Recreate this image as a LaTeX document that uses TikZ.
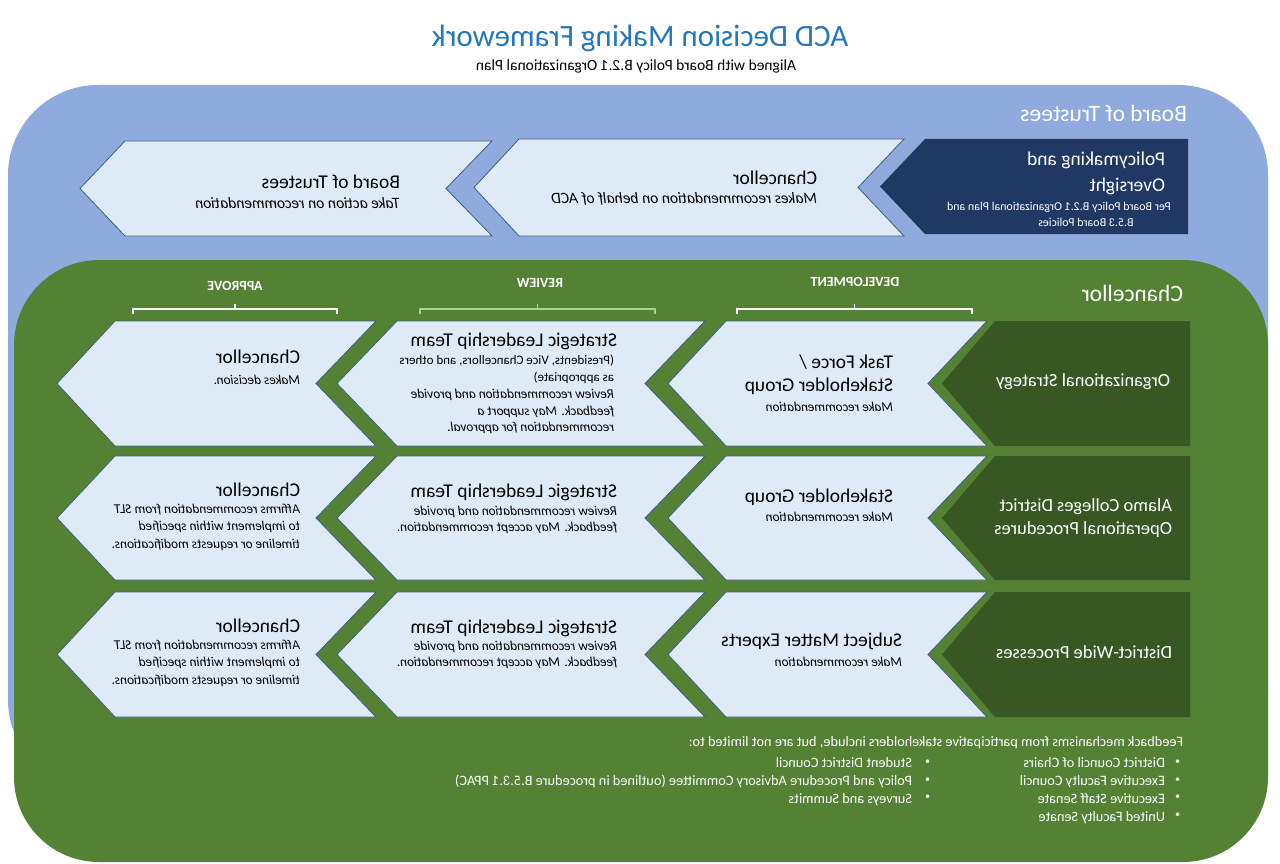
\documentclass[tikz,border=0pt]{standalone}
\usepackage{fontspec}
\setmainfont{Carlito}
\definecolor{bgblue}{HTML}{8FAADC}
\definecolor{bggreen}{HTML}{548235}
\definecolor{dkgreen}{HTML}{385723}
\definecolor{navy}{HTML}{203864}
\definecolor{lightfill}{HTML}{DEEBF7}
\definecolor{chevborder}{HTML}{3A5F80}
\definecolor{titleblue}{HTML}{2577BD}
\definecolor{revline}{HTML}{A9D18E}
% chevron with notch: point, top-left, notch, right, top, bottom, style
\newcommand{\chev}[7]{\draw[#7] (#2,#5) -- (#4,#5) -- (#3,{(#5+#6)/2}) -- (#4,#6) -- (#2,#6) -- (#1,{(#5+#6)/2}) -- cycle;}
% pentagon pointing left: point, top-left, right, top, bottom, style
\newcommand{\pent}[6]{\fill[#6] (#2,#4) -- (#3,#4) -- (#3,#5) -- (#2,#5) -- (#1,{(#4+#5)/2}) -- cycle;}
% bracket: left, right, colour
\newcommand{\colbracket}[3]{\draw[#3, line width=1.2pt] (#1,314) -- (#1,309) -- (#2,309) -- (#2,314); \draw[#3, line width=1.2pt] ({(#1+#2)/2},309) -- ({(#1+#2)/2},304);}
\begin{document}
\begin{tikzpicture}[x=1pt,y=-1pt,
  every node/.style={xscale=-1, inner sep=0pt, outer sep=0pt},
  chevst/.style={fill=lightfill, draw=chevborder, line width=0.8pt},
  boxttl/.style={anchor=base west, font=\fontsize{19.5}{23}\selectfont},
  boxsub/.style={anchor=base west, font=\fontsize{13.5}{17}\selectfont\itshape},
  boxbody/.style={anchor=north west, align=left, font=\fontsize{13.5}{#1}\selectfont\itshape},
  lab/.style={anchor=base west, text=white, font=\fontsize{18.5}{23}\selectfont},
  hdr/.style={anchor=base west, text=white, font=\fontsize{23.5}{28}\selectfont},
  colhdr/.style={anchor=base, text=white, font=\fontsize{14}{15}\selectfont\bfseries},
  fb/.style={anchor=north west, align=left, text=white, font=\fontsize{14.3}{17.7}\selectfont},
  fbdot/.style={anchor=north west, align=left, text=white, font=\fontsize{10}{17.7}\selectfont}]
\useasboundingbox (0,0) rectangle (1280,864);
\fill[white] (0,0) rectangle (1280,864);
% backgrounds
\fill[bgblue, rounded corners=90pt] (8,85) rectangle (1268,790);
\fill[bggreen, rounded corners=85pt] (14,260) rectangle (1268,862);
% title
\node[anchor=base, text=titleblue, font=\fontsize{31}{36}\selectfont] (title) at (640,47) {ACD Decision Making Framework};
\node[anchor=base, font=\fontsize{15.5}{17}\selectfont] (subtitle) at (636,71) {Aligned with Board Policy B.2.1 Organizational Plan};
% board row
\node[hdr] (bothdr) at (1187,122) {Board of Trustees};
\pent{880}{925}{1188}{139}{234}{navy}
\chev{474}{519}{858}{904}{139}{236}{chevst}
\chev{80}{125}{446}{492}{141}{236}{chevst}
\node[boxttl, text=white] (pol1) at (1165,165) {Policymaking and};
\node[boxttl, text=white] (pol2) at (1165,191) {Oversight};
\node[anchor=base, text=white, font=\fontsize{12}{13}\selectfont] (pol3) at (1059,211) {Per Board Policy B.2.1 Organizational Plan and};
\node[anchor=base, text=white, font=\fontsize{12}{13}\selectfont] (pol4) at (1086,226) {B.5.3 Board Policies};
\node[boxttl] (chb1) at (817,184) {Chancellor};
\node[boxsub, font=\fontsize{15.8}{17}\selectfont\itshape] (chb2) at (817,204) {Makes recommendation on behalf of ACD};
\node[boxttl] (btb1) at (400,188) {Board of Trustees};
\node[boxsub, font=\fontsize{15.8}{17}\selectfont\itshape] (btb2) at (400,208) {Take action on recommendation};
% chancellor region
\node[hdr] (chhdr) at (1183,301) {Chancellor};
\node[colhdr] (apphdr) at (235,290) {APPROVE};
\node[colhdr] (revhdr) at (540,287) {REVIEW};
\node[colhdr] (devhdr) at (855,286) {DEVELOPMENT};
\colbracket{133}{337}{white}
\colbracket{420}{655}{revline}
\colbracket{737}{972}{white}
% rows of shapes
\foreach \t/\b in {321/446, 456/580, 592/717}{
  \pent{942}{995}{1190}{\t}{\b}{dkgreen}
  \chev{668}{726}{928}{987}{\t}{\b}{chevst}
  \chev{337}{397}{645}{705}{\t}{\b}{chevst}
  \chev{57}{115}{316}{376}{\t}{\b}{chevst}
}
% row 1
\node[lab] (r1lab) at (1170,386) {Organizational Strategy};
\node[boxttl] (r1d1) at (893,368) {Task Force /};
\node[boxttl] (r1d2) at (893,391) {Stakeholder Group};
\node[boxsub] (r1d3) at (893,411) {Make recommendation};
\node[boxttl] (r1r1) at (617,346) {Strategic Leadership Team};
\node[anchor=north west, align=left, font=\fontsize{13}{16.7}\selectfont] (r1r2) at (614,355) {(Presidents, Vice Chancellors, and others\\as appropriate)};
\node[boxbody=16.7] (r1r3) at (614,389) {Review recommendation and provide\\feedback. May support a\\recommendation for approval.};
\node[boxttl] (r1a1) at (300,363) {Chancellor};
\node[boxsub] (r1a2) at (300,384) {Makes decision.};
% row 2
\node[lab, anchor=north west, align=left] (r2lab) at (1172,499) {Alamo Colleges District\\Operational Procedures};
\node[boxttl] (r2d1) at (893,502) {Stakeholder Group};
\node[boxsub] (r2d2) at (893,521) {Make recommendation};
\node[boxttl] (r2r1) at (617,497) {Strategic Leadership Team};
\node[boxbody=16.5] (r2r2) at (617,506) {Review recommendation and provide\\feedback. May accept recommendation.};
\node[boxttl] (r2a1) at (300,496) {Chancellor};
\node[boxbody=17.5] (r2a2) at (300,504) {Affirms recommendation from SLT\\to implement within specified\\timeline or requests modifications.};
% row 3
\node[lab] (r3lab) at (1172,658) {District-Wide Processes};
\node[boxttl] (r3d1) at (902,646) {Subject Matter Experts};
\node[boxsub] (r3d2) at (902,666) {Make recommendation};
\node[boxttl] (r3r1) at (617,633) {Strategic Leadership Team};
\node[boxbody=16.5] (r3r2) at (617,641) {Review recommendation and provide\\feedback. May accept recommendation.};
\node[boxttl] (r3a1) at (300,632) {Chancellor};
\node[boxbody=17.5] (r3a2) at (300,640) {Affirms recommendation from SLT\\to implement within specified\\timeline or requests modifications.};
% feedback
\node[anchor=base west, text=white, font=\fontsize{14.3}{16}\selectfont] (fbhdr) at (1183,746) {Feedback mechanisms from participative stakeholders include, but are not limited to:};
\node[fbdot] (fbb1) at (1180,760) {•\\•\\•\\•};
\node[fb] (fbl1) at (1165,758) {District Council of Chairs\\Executive Faculty Council\\Executive Staff Senate\\United Faculty Senate};
\node[fbdot] (fbb2) at (930,760) {•\\•\\•};
\node[fb] (fbl2) at (912,758) {Student District Council\\Policy and Procedure Advisory Committee (outlined in procedure B.5.3.1 PPAC)\\Surveys and Summits};
\end{tikzpicture}
\end{document}
